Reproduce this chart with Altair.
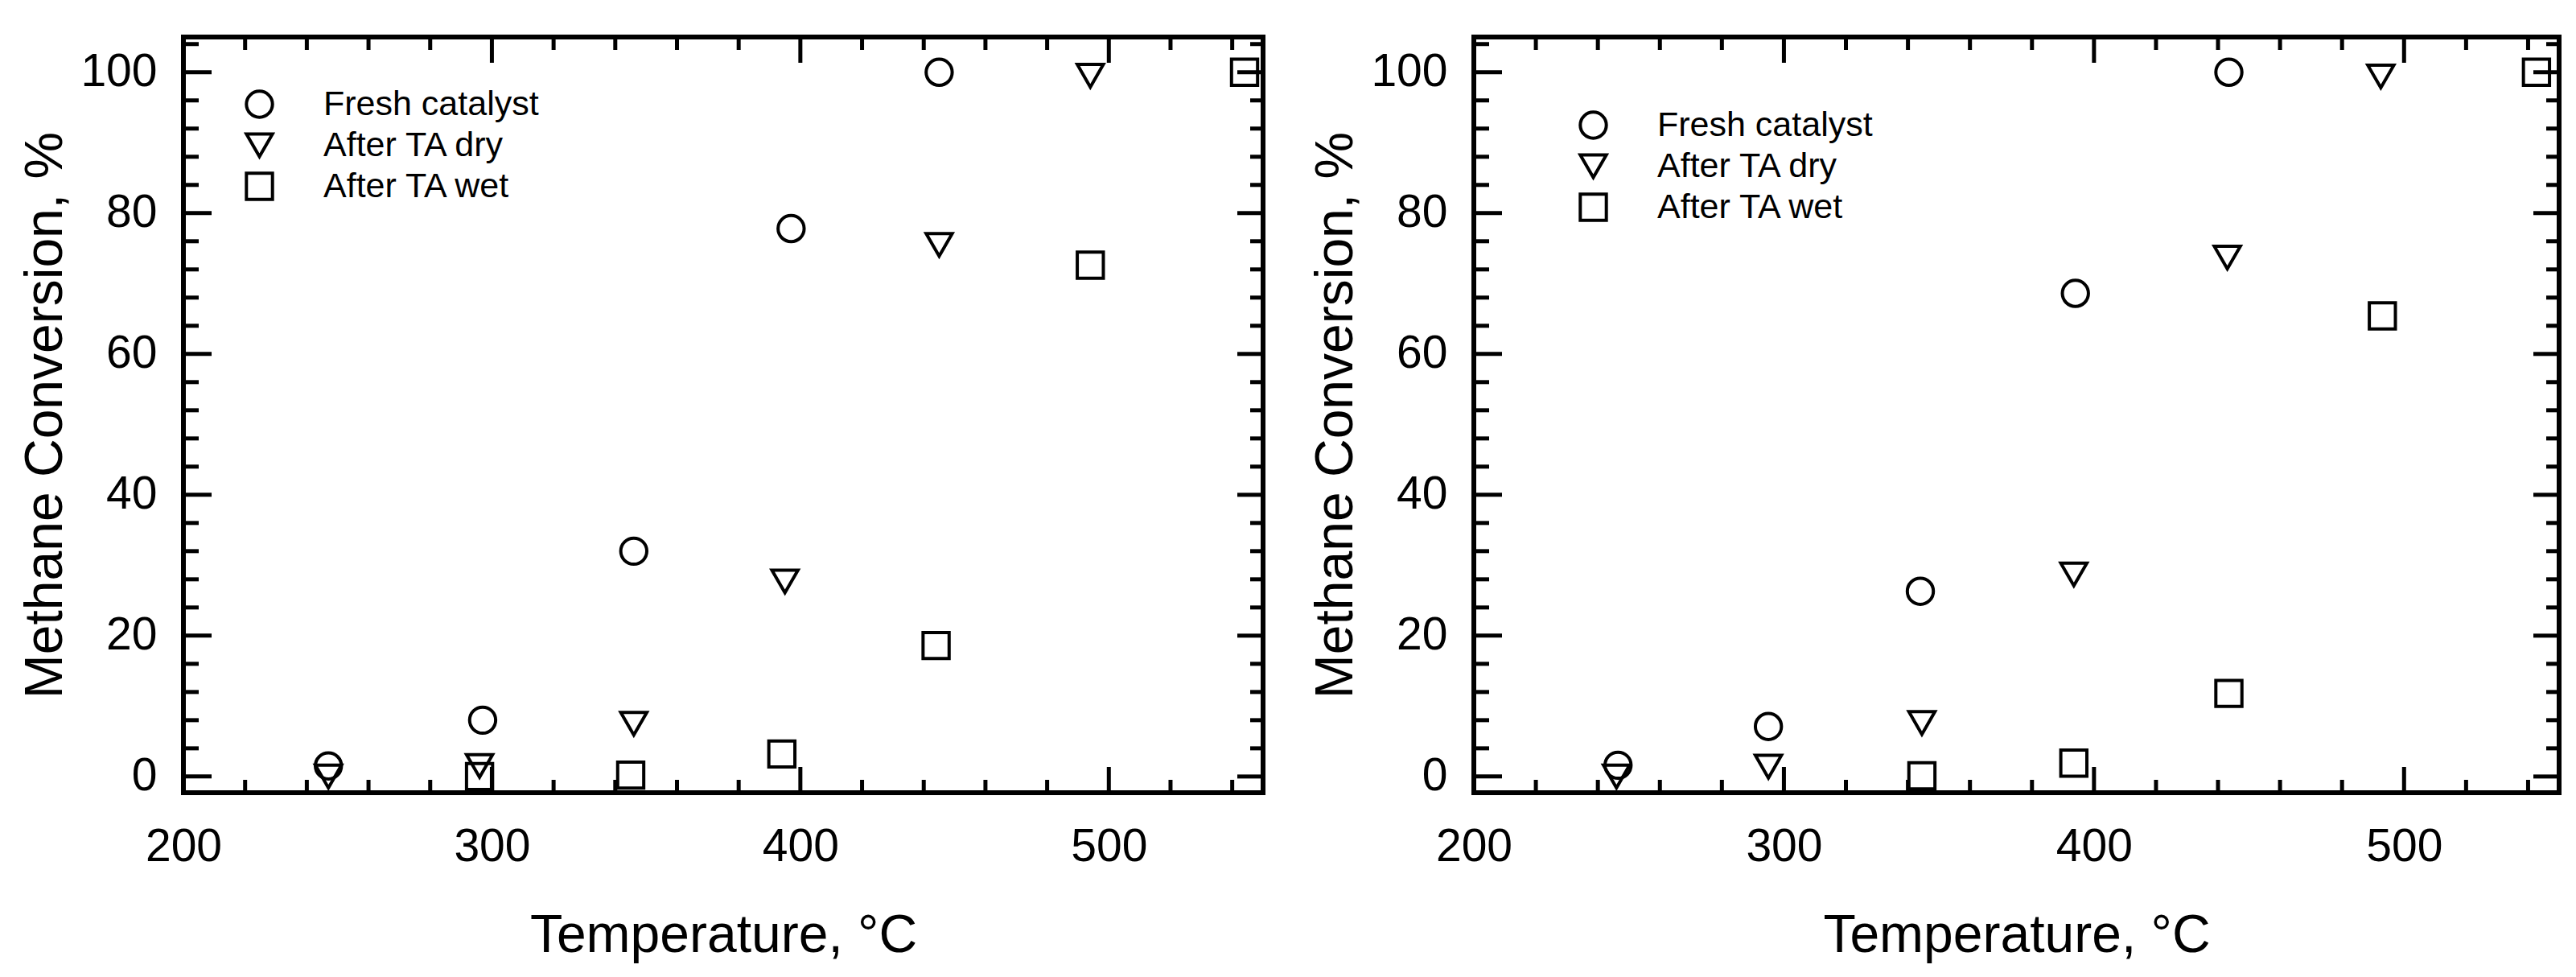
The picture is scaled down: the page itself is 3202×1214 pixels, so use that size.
import altair as alt
import pandas as pd

# ---- data ----
series = ["Fresh catalyst", "After TA dry", "After TA wet"]
shapes = ["circle", "triangle-down", "square"]

# left panel
temps_fresh_L = [247, 297, 346, 397, 445]
conv_fresh_L = [1.5, 8.0, 32.0, 77.8, 100.0]
temps_dry_L = [247, 296, 346, 395, 445, 494]
conv_dry_L = [0.0, 1.5, 7.5, 27.7, 75.5, 99.5]
temps_wet_L = [296, 345, 394, 444, 494, 544]
conv_wet_L = [0.0, 0.2, 3.2, 18.6, 72.6, 100.0]

# right panel
temps_fresh_R = [246.5, 295, 344, 394, 443.5]
conv_fresh_R = [1.6, 7.1, 26.3, 68.6, 100.0]
temps_dry_R = [246, 295, 344.5, 393.5, 443, 492.5]
conv_dry_R = [0.0, 1.4, 7.6, 28.7, 73.7, 99.4]
temps_wet_R = [344.5, 393.5, 443.5, 493, 542.7]
conv_wet_R = [0.1, 1.9, 11.8, 65.4, 100.0]

# axis ticks
x_major = [200, 300, 400, 500]
x_minor = [220, 240, 260, 280, 320, 340, 360, 380, 420, 440, 460, 480, 520, 540]
y_major = [0, 20, 40, 60, 80, 100]
y_minor = [4, 8, 12, 16, 24, 28, 32, 36, 44, 48, 52, 56, 64, 68, 72, 76, 84, 88, 92, 96, 104]

x_domain = [200, 550]
y_domain = [-2.3, 105]

FONT = "Liberation Sans"


def build_df(groups):
    rows = []
    for name, xs, ys in groups:
        for t, c in zip(xs, ys):
            rows.append({"T": t, "C": c, "S": name})
    return pd.DataFrame(rows)


df_L = build_df([
    (series[0], temps_fresh_L, conv_fresh_L),
    (series[1], temps_dry_L, conv_dry_L),
    (series[2], temps_wet_L, conv_wet_L),
])
df_R = build_df([
    (series[0], temps_fresh_R, conv_fresh_R),
    (series[1], temps_dry_R, conv_dry_R),
    (series[2], temps_wet_R, conv_wet_R),
])


def panel(df, W, H, lx, ly):
    xs = alt.Scale(domain=x_domain, nice=False, zero=False)
    ys = alt.Scale(domain=y_domain, nice=False, zero=False)

    pts = alt.Chart(df).mark_point(
        filled=False, size=1050, strokeWidth=4, color="black", opacity=1
    ).encode(
        x=alt.X("T:Q", scale=xs, axis=alt.Axis(
            values=x_major, title="Temperature, °C", ticks=False, domain=False, grid=False,
            labelFontSize=57, labelFont=FONT, labelColor="black", labelPadding=39,
            labelFlush=False, labelOverlap=False,
            titleFontSize=66, titleFont=FONT, titleFontWeight="normal", titleColor="black",
            titlePadding=50)),
        y=alt.Y("C:Q", scale=ys, axis=alt.Axis(
            values=y_major, title="Methane Conversion, %", ticks=False, domain=False, grid=False,
            labelFontSize=57, labelFont=FONT, labelColor="black", labelPadding=33,
            labelOverlap=False,
            titleFontSize=66, titleFont=FONT, titleFontWeight="normal", titleColor="black",
            titlePadding=9)),
        shape=alt.Shape("S:N", scale=alt.Scale(domain=series, range=shapes),
                        legend=alt.Legend(
                            title=None, orient="none", legendX=lx, legendY=ly,
                            labelFontSize=43, labelFont=FONT, labelColor="black", labelLimit=0,
                            symbolSize=1050, symbolStrokeWidth=4, symbolStrokeColor="black",
                            symbolFillColor="transparent", labelOffset=58, rowPadding=4,
                            padding=0)),
    )

    def xticks(vals, length):
        d = pd.DataFrame({"v": vals})
        base = alt.Chart(d).mark_rule(color="black", strokeWidth=5, strokeCap="butt")
        bottom = base.encode(x=alt.X("v:Q", scale=xs, axis=None),
                             y=alt.value(H), y2=alt.value(H - length))
        top = base.encode(x=alt.X("v:Q", scale=xs, axis=None),
                          y=alt.value(0), y2=alt.value(length))
        return [bottom, top]

    def yticks(vals, length_l, length_r):
        d = pd.DataFrame({"v": vals})
        base = alt.Chart(d).mark_rule(color="black", strokeWidth=5, strokeCap="butt")
        left = base.encode(y=alt.Y("v:Q", scale=ys, axis=None),
                           x=alt.value(0), x2=alt.value(length_l))
        right = base.encode(y=alt.Y("v:Q", scale=ys, axis=None),
                            x=alt.value(W), x2=alt.value(W - length_r))
        return [left, right]

    layers = [pts]
    layers += xticks(x_major, 32) + xticks(x_minor, 16)
    layers += yticks(y_major, 35, 32) + yticks(y_minor, 19, 16)
    return alt.layer(*layers).resolve_axis(x="independent", y="independent").properties(
        width=W, height=H)


left = panel(df_L, 1342, 939, 73, 62)
right = panel(df_R, 1349, 939, 127, 88)

chart = alt.hconcat(left, right, spacing=48).resolve_scale(
    x="independent", y="independent", shape="independent"
).resolve_legend(shape="independent").properties(
    padding={"left": 12, "top": 32, "right": 5, "bottom": 0}
).configure_view(
    stroke="black", strokeWidth=6
)

chart.save("out.html", embed_options={"renderer": "svg", "actions": False})
